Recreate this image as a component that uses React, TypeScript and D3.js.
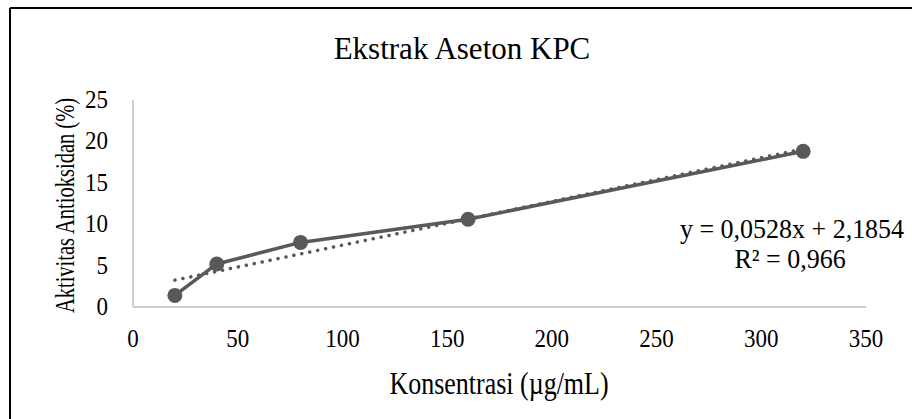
import React from "react";
import * as d3 from "d3";

const concentrations = [20, 40, 80, 160, 320];
const activity = [1.4, 5.2, 7.8, 10.6, 18.8];
const xTicks = [0, 50, 100, 150, 200, 250, 300, 350];
const yTicks = [0, 5, 10, 15, 20, 25];
const trendSlope = 0.0528;
const trendIntercept = 2.1854;
const titleText = "Ekstrak Aseton KPC";
const xTitle = "Konsentrasi (µg/mL)";
const yTitle = "Aktivitas Antioksidan (%)";
const eqText = "y = 0,0528x + 2,1854";
const r2Text = "R² = 0,966";

const W = 912;
const H = 419;
const FONT = "'Liberation Serif', 'Times New Roman', serif";

export default function App() {
  const x = d3.scaleLinear().domain([0, 350]).range([133, 866]);
  const y = d3.scaleLinear().domain([0, 25]).range([307, 100]);
  const pts: [number, number][] = concentrations.map((c, i) => [c, activity[i]]);
  const line = d3
    .line<[number, number]>()
    .x((d) => x(d[0]))
    .y((d) => y(d[1]));
  const xMin = d3.min(concentrations) as number;
  const xMax = d3.max(concentrations) as number;
  const trend: [number, number][] = [
    [xMin, trendSlope * xMin + trendIntercept],
    [xMax, trendSlope * xMax + trendIntercept],
  ];
  const col = "#595959";
  const txt = { fontFamily: FONT, fill: "#000" } as const;
  return (
    <svg
      width={W}
      height={H}
      style={{ position: "absolute", left: 0, top: 0, background: "#fff" }}
    >
      <rect x={0} y={0} width={W} height={H} fill="#fff" />
      <line x1={10} y1={8} x2={W} y2={8} stroke="#000" strokeWidth={2} />
      <line x1={10} y1={8} x2={10} y2={H} stroke="#000" strokeWidth={2} />
      <text x={462} y={59} fontSize={31} textAnchor="middle" {...txt}>
        {titleText}
      </text>
      {/* axes */}
      <line x1={x(0)} y1={y(25)} x2={x(0)} y2={y(0)} stroke="#bfbfbf" strokeWidth={1.5} />
      <line x1={x(0)} y1={y(0)} x2={x(350)} y2={y(0)} stroke="#bfbfbf" strokeWidth={1.5} />
      {yTicks.map((t) => (
        <text
          key={"y" + t}
          transform={`translate(108,${y(t) + 8}) scale(1,1.08)`}
          fontSize={23}
          textAnchor="end"
          {...txt}
        >
          {t}
        </text>
      ))}
      {xTicks.map((t) => (
        <text
          key={"x" + t}
          transform={`translate(${x(t)},347) scale(1,1.08)`}
          fontSize={23}
          textAnchor="middle"
          {...txt}
        >
          {t}
        </text>
      ))}
      <text transform="translate(499,394) scale(1,1.2)" fontSize={26} textAnchor="middle" {...txt}>
        {xTitle}
      </text>
      <text
        transform={`translate(74,${(y(0) + y(25)) / 2 + 2}) rotate(-90) scale(1,1.35)`}
        fontSize={20.5}
        textAnchor="middle"
        {...txt}
      >
        {yTitle}
      </text>
      {/* trendline */}
      <path
        d={line(trend) || ""}
        fill="none"
        stroke={col}
        strokeWidth={3.5}
        strokeLinecap="round"
        strokeDasharray="0.1 8"
      />
      <path d={line(pts) || ""} fill="none" stroke={col} strokeWidth={3.5} strokeLinejoin="round" />
      {pts.map((d, i) => (
        <circle key={i} cx={x(d[0])} cy={y(d[1])} r={7.5} fill={col} />
      ))}
      <text transform="translate(792,238) scale(1,1.05)" fontSize={26} textAnchor="middle" {...txt}>
        {eqText}
      </text>
      <text transform="translate(790,268) scale(1,1.05)" fontSize={26} textAnchor="middle" {...txt}>
        {r2Text}
      </text>
    </svg>
  );
}
